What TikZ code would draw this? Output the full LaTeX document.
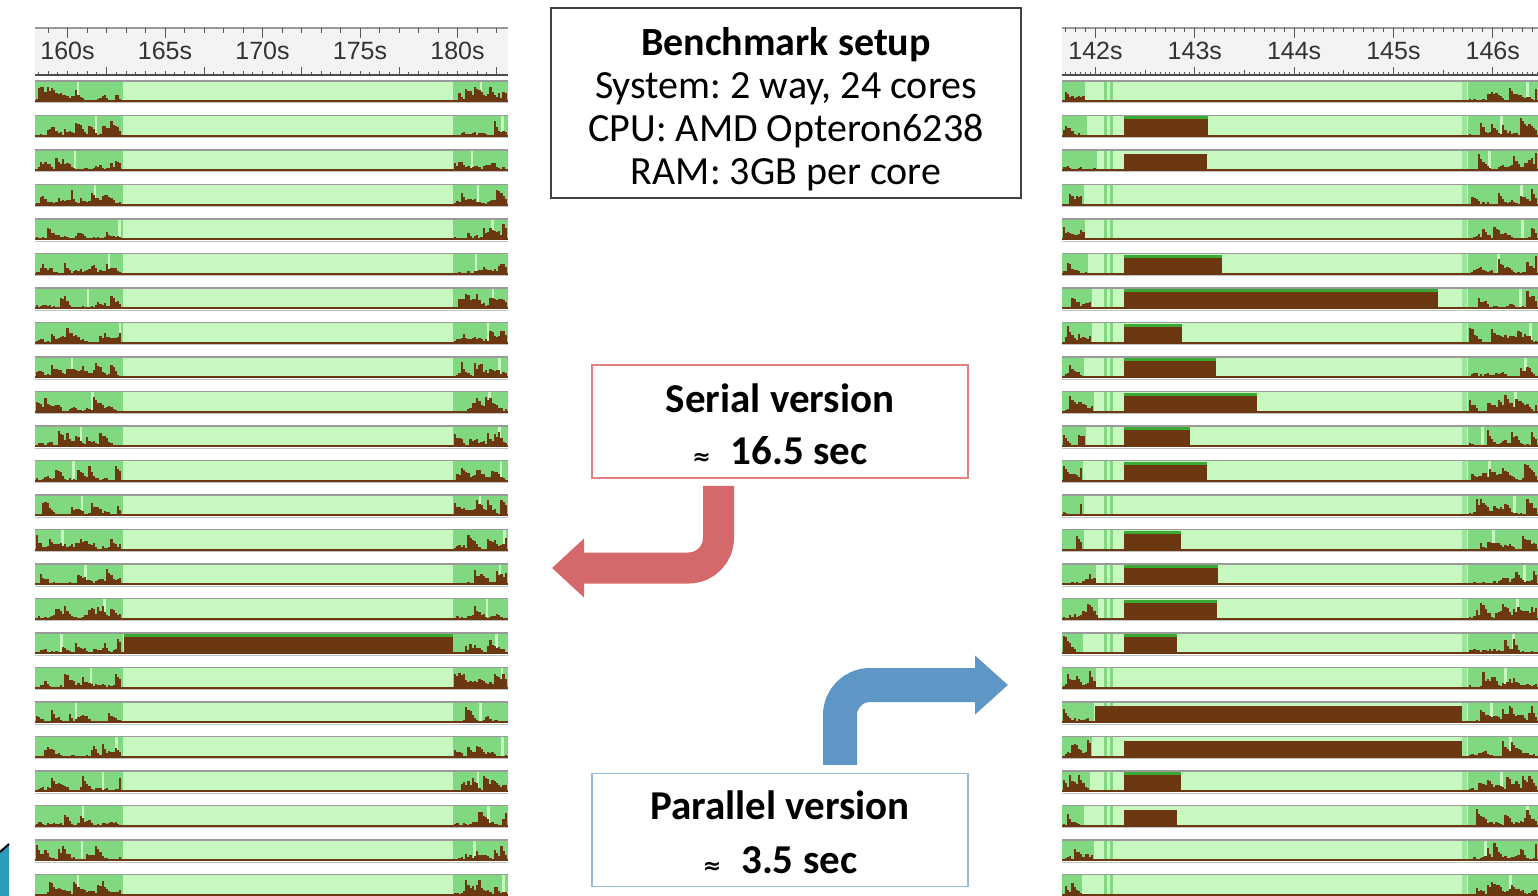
\documentclass[tikz,border=0pt]{standalone}
\usepackage{fontspec}
\setmainfont{Carlito}
\newfontfamily\rulerfont{Liberation Sans}
\newfontfamily\symfont{DejaVu Sans}
\usetikzlibrary{arrows.meta}
\frenchspacing

\definecolor{idle}{HTML}{C6F8C0}
\definecolor{busy}{HTML}{80D880}
\definecolor{load}{HTML}{6B3812}
\definecolor{capgreen}{HTML}{3AAA35}
\definecolor{rulerbg}{HTML}{F3F3F3}
\definecolor{edgegray}{HTML}{9A9A9A}
\definecolor{serialred}{HTML}{D4686A}
\definecolor{serialedge}{HTML}{E08282}
\definecolor{parblue}{HTML}{5E96C6}
\definecolor{paredge}{HTML}{93BBDD}
\definecolor{logoteal}{HTML}{2B9CB9}

% CPU load profile: a run of thin bars with clustered random heights
% #1 x start, #2 x end, #3 baseline y, #4 peak height
\newcommand\spikes[4]{%
  \gdef\spklast{1}%
  \pgfmathtruncatemacro\spkN{(#2-#1)/2.2}%
  \foreach \k in {0,...,\spkN}{%
    \pgfmathsetmacro\spkr{rnd}%
    \pgfmathsetmacro\spkx{#1+\k*2.2}%
    \pgfmathsetmacro\spkh{\spkr<0.17 ? 6+#4*rnd : max(0.8, 0.7*\spklast + 5*rnd - 1.8)}%
    \xdef\spklast{\spkh}%
    \fill[load] (\spkx,#3) rectangle ++(2.3,-\spkh);
  }%
}

\tikzset{
  rulerlabel/.style={font=\rulerfont\fontsize{25}{25}\selectfont, text=black!80, inner sep=0pt},
  tickline/.style={black!65, line width=1pt},
  infobox/.style={draw=#1, line width=1.5pt, fill=white, minimum width=376pt,
    minimum height=113pt, inner sep=0pt},
  boxtext/.style={align=center, inner sep=0pt},
  bigarrow/.style={line width=#1, rounded corners=30pt},
}

\begin{document}
\begin{tikzpicture}[x=1pt,y=-1pt]
\useasboundingbox (0,0) rectangle (1538,896);
\fill[white] (0,0) rectangle (1538,896);
\pgfmathsetseed{2718}

% ---------- left time ruler (160 s .. 180 s) ----------
\fill[rulerbg] (35,28) rectangle (508,75);
\draw[edgegray, line width=1.5pt] (35,28) -- (508,28);
\draw[black!70, line width=1.5pt] (35,75) -- (508,75);
\foreach \s in {159,...,182}{
  \pgfmathsetmacro\tx{67.5+(\s-160)*19.5}
  \pgfmathsetmacro\tl{mod(\s,5)==0 ? 10 : 5}
  \draw[tickline] (\tx,28) -- ++(0,\tl);
}
\foreach \h in {0,...,47}{
  \pgfmathsetmacro\tx{38.25+\h*9.75}
  \pgfmathsetmacro\tl{mod(\h+3,10)==0 ? 8 : (mod(\h+3,2)==0 ? 4 : 3)}
  \draw[tickline] (\tx,75) -- ++(0,-\tl);
}
\foreach \s in {160,165,...,180}
  \node[rulerlabel] (lt\s) at ({67.5+(\s-160)*19.5},51) {\s s};

% ---------- right time ruler (142 s .. 146 s) ----------
\fill[rulerbg] (1062,28) rectangle (1538,75);
\draw[edgegray, line width=1.5pt] (1062,28) -- (1538,28);
\draw[black!70, line width=1.5pt] (1062,75) -- (1538,75);
\foreach \k in {1417,...,1465}{
  \pgfmathsetmacro\tx{1095.5+(\k/10-142)*99.3}
  \pgfmathsetmacro\tl{mod(\k,10)==0 ? 10 : 4}
  \draw[tickline] (\tx,28) -- ++(0,\tl);
}
\foreach \k in {2834,...,2930}{
  \pgfmathsetmacro\tx{1095.5+(\k/20-142)*99.3}
  \pgfmathsetmacro\tl{mod(\k,20)==0 ? 8 : (mod(\k,10)==0 ? 5 : 3)}
  \draw[tickline] (\tx,75) -- ++(0,-\tl);
}
\foreach \s in {142,...,146}
  \node[rulerlabel] (rt\s) at ({1095.5+(\s-142)*99.3},51) {\s s};

% ---------- left panel: serial run, one bar per core ----------
\foreach \i in {0,...,23}{
  \pgfmathsetmacro\T{81+\i*34.5}
  \fill[idle] (35,\T) rectangle (508,\T+21);
  \fill[busy] (35,\T) rectangle (123,\T+21);
  \fill[busy] (453,\T) rectangle (508,\T+21);
  \pgfmathsetmacro\ga{60+60*rnd}
  \fill[idle] (\ga,\T) rectangle ++(2.5,21);
  \pgfmathsetmacro\gb{470+34*rnd}
  \fill[idle] (\gb,\T) rectangle ++(2.5,21);
  \spikes{35.5}{120.5}{\T+21}{10}
  \spikes{454}{505.5}{\T+21}{10}
}
% the single core doing the serial work
\fill[capgreen] (123.5,633+1) rectangle (453,633+4);
\fill[load] (123.5,633+4) rectangle (453,633+21);

% ---------- right panel: parallel run ----------
\foreach \i in {0,...,23}{
  \pgfmathsetmacro\T{81+\i*34.5}
  \fill[idle] (1062,\T) rectangle (1538,\T+21);
  \pgfmathsetmacro\le{1082+16*rnd}
  \fill[busy] (1062,\T) rectangle (\le,\T+21);
  \fill[busy] (1104,\T) rectangle ++(3,21);
  \fill[busy] (1110,\T) rectangle ++(3,21);
  \fill[busy!60!idle] (1462,\T) rectangle (1467,\T+21);
  \fill[busy] (1468,\T) rectangle (1538,\T+21);
  \pgfmathsetmacro\gb{1480+50*rnd}
  \fill[idle] (\gb,\T) rectangle ++(3,21);
  \spikes{1062.5}{\le-2}{\T+21}{12}
  \spikes{1469}{1536}{\T+21}{13}
}
\foreach \i/\bs/\be/\st in {1/1124/1208/1, 2/1124/1207/0, 5/1124/1222/1,
    6/1124/1438/1, 7/1124/1182/1, 8/1124/1216/1, 9/1124/1257/1,
    10/1124/1190/1, 11/1124/1207/1, 13/1124/1181/1, 14/1124/1218/1,
    15/1124/1217/1, 16/1124/1177/1, 18/1095/1462/0, 19/1124/1462/0,
    20/1124/1181/1, 21/1124/1177/0}{
  \pgfmathsetmacro\T{81+\i*34.5}
  \ifnum\st=1 \fill[capgreen] (\bs,\T+1) rectangle (\be,\T+4); \fi
  \fill[load] (\bs,\T+4) rectangle (\be,\T+21);
}

% bar outlines for both panels
\foreach \i in {0,...,23}{
  \pgfmathsetmacro\T{81+\i*34.5}
  \foreach \xa/\xb in {35/508, 1062/1538}{
    \draw[edgegray, line width=1.6pt] (\xa,\T) -- (\xb,\T);
    \draw[load, line width=1.8pt] (\xa,\T+20.2) -- (\xb,\T+20.2);
    \draw[edgegray!60, line width=1pt] (\xa,\T+22) -- (\xb,\T+22);
  }
}

% ---------- corner ornament ----------
\fill[logoteal] (0,852) .. controls (4,848) .. (9,844) -- (9,896) -- (0,896) -- cycle;
\draw[black, line width=2pt] (0,852) .. controls (4,848) .. (9,844);

% ---------- captions ----------
\node[draw=black!75, line width=2pt, fill=white, minimum width=470pt, minimum height=190pt,
      inner sep=0pt] (setup) at (786,103) {};
\node[boxtext, font=\fontsize{40}{43}\selectfont] (setuptext) at (786,109)
  {\textbf{Benchmark setup}\\System: 2 way, 24 cores\\CPU: AMD Opteron6238\\RAM: 3GB per core};

\node[infobox=serialedge] (serial) at (780,421.5) {};
\node[boxtext, font=\fontsize{41}{52}\selectfont\bfseries] (serialtext) at (780,424)
  {Serial version\\{\symfont\fontsize{22}{22}\selectfont ≈}\hspace{20pt}16.5 sec};

\node[infobox=paredge] (parallel) at (780,830) {};
\node[boxtext, font=\fontsize{41}{54}\selectfont\bfseries] (paralleltext) at (780,832.5)
  {Parallel version\\{\symfont\fontsize{22}{22}\selectfont ≈}\hspace{20pt}3.5 sec};

% ---------- arrows from the timings to their profiles ----------
\coordinate (serialtip) at (552,568);
\coordinate (partip) at (1008,685);
\draw[bigarrow=31pt, serialred, -{Triangle[width=57pt,length=32pt]}]
  ([xshift=-61.5pt,yshift=-7pt]serial.south) |- (serialtip);
\draw[bigarrow=34pt, parblue, -{Triangle[width=57pt,length=33pt]}]
  ([xshift=60pt,yshift=8pt]parallel.north) |- (partip);
\end{tikzpicture}
\end{document}
